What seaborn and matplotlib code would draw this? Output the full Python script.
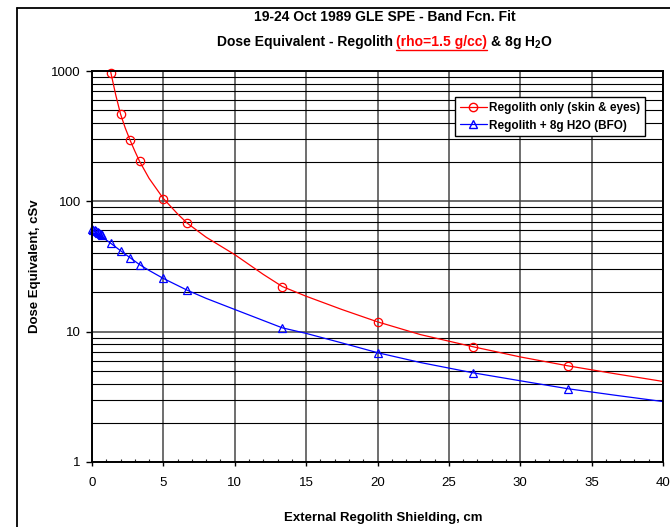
import matplotlib
matplotlib.use("Agg")
import matplotlib.pyplot as plt
from matplotlib.lines import Line2D
from matplotlib.ticker import FixedLocator, FixedFormatter, LogLocator, NullFormatter, MultipleLocator
import seaborn as sns

# fitted curves, values
reg_curve_x = [1.2, 1.33, 1.67, 2, 2.33, 2.67, 3, 3.33, 4, 5, 6, 6.67, 8, 10, 12, 13.33,
               15, 17.5, 20, 23, 26.67, 30, 33.33, 36.67, 40]
reg_curve_y = [1150, 960, 650, 467, 365, 294, 243, 203, 150, 105, 80, 68, 53, 39, 27.5, 22.2,
               18.7, 14.8, 11.9, 9.5, 7.67, 6.4, 5.47, 4.75, 4.15]
h2o_curve_x = [0, 0.33, 0.67, 1, 1.33, 2, 2.67, 3.33, 4, 5, 6.67, 8, 10, 13.33,
               15, 17.5, 20, 23, 26.67, 30, 33.33, 36.67, 40]
h2o_curve_y = [61, 57, 54, 50.5, 47.5, 41.8, 36.9, 32.7, 29.5, 25.6, 20.8, 18, 14.8, 10.7,
               9.7, 8.2, 6.9, 5.8, 4.84, 4.2, 3.65, 3.25, 2.91]

# marked points
reg_pts_x = [1.33, 2, 2.67, 3.33, 5, 6.67, 13.33, 20, 26.67, 33.33]
reg_pts_y = [960, 467, 294, 203, 105, 68, 22.2, 11.9, 7.67, 5.47]
h2o_pts_x = [0, 0.1, 0.2, 0.3, 0.4, 0.5, 0.6, 0.7, 1.33, 2, 2.67, 3.33, 5, 6.67,
             13.33, 20, 26.67, 33.33]
h2o_pts_y = [61, 60.5, 59.8, 59, 58.2, 57.2, 56.3, 55.2, 47.5, 41.8, 36.9, 32.7, 25.6, 20.8,
             10.7, 6.9, 4.84, 3.65]

x_ticks = [0, 5, 10, 15, 20, 25, 30, 35, 40]
y_ticks = [1, 10, 100, 1000]
y_tick_labels = ["1", "10", "100", "1000"]
legend_labels = ["Regolith only (skin & eyes)", "Regolith + 8g H2O (BFO)"]
title_1 = "19-24 Oct 1989 GLE SPE - Band Fcn. Fit"
title_2 = [("Dose Equivalent - Regolith ", "black", False),
           ("(rho=1.5 g/cc)", "red", True),
           (r" & 8g H$_\mathbf{2}$O", "black", False)]

sns.set_style("ticks")
plt.rcParams["font.family"] = ["Liberation Sans", "DejaVu Sans"]
plt.rcParams["mathtext.fontset"] = "custom"
plt.rcParams["mathtext.bf"] = "Liberation Sans:bold"
plt.rcParams["mathtext.rm"] = "Liberation Sans"
plt.rcParams["text.color"] = "black"
plt.rcParams["axes.labelcolor"] = "black"

W, H = 670, 527
fig = plt.figure(figsize=(6.7, 5.27), dpi=100)
ax = fig.add_axes([92 / W, 1 - 462 / H, (663 - 92) / W, (462 - 71) / H])

red, blue = "#FF0000", "#0000FF"

sns.lineplot(x=reg_curve_x, y=reg_curve_y, color=red, lw=0.9, sort=False, estimator=None, ax=ax)
sns.lineplot(x=h2o_curve_x, y=h2o_curve_y, color=blue, lw=0.9, sort=False, estimator=None, ax=ax)
sns.lineplot(x=reg_pts_x, y=reg_pts_y, marker="o", linestyle="", ms=6, mfc="none", mec=red,
             mew=0.9, color=red, sort=False, estimator=None, ax=ax, clip_on=False)
sns.lineplot(x=h2o_pts_x, y=h2o_pts_y, marker="^", linestyle="", ms=6, mfc="none", mec=blue,
             mew=0.9, color=blue, sort=False, estimator=None, ax=ax, clip_on=False)

ax.set_yscale("log")
ax.set_xlim(0, 40)
ax.set_ylim(1, 1000)
ax.xaxis.set_major_locator(FixedLocator(x_ticks))
ax.xaxis.set_minor_locator(MultipleLocator(1))
ax.yaxis.set_major_locator(FixedLocator(y_ticks))
ax.yaxis.set_major_formatter(FixedFormatter(y_tick_labels))
ax.yaxis.set_minor_locator(LogLocator(base=10, subs=range(2, 10)))
ax.yaxis.set_minor_formatter(NullFormatter())

ax.grid(True, axis="x", which="major", color="#555555", lw=1.2)
ax.grid(True, axis="y", which="major", color="#444444", lw=1.1)
ax.grid(True, axis="y", which="minor", color="black", lw=0.8)
ax.set_axisbelow(True)

for s in ax.spines.values():
    s.set_color("black")
    s.set_linewidth(1.4)

ax.tick_params(axis="x", which="major", direction="out", length=3, width=1, pad=8,
               labelsize=9.5, colors="black")
ax.tick_params(axis="x", which="minor", direction="in", length=2.5, width=0.8)
ax.tick_params(axis="y", which="major", direction="out", length=4, width=1, pad=4,
               labelsize=9.5, colors="black")
ax.tick_params(axis="y", which="minor", length=0)

ax.set_xlabel("External Regolith Shielding, cm", fontsize=9.5, fontweight="bold")
ax.set_ylabel("Dose Equivalent, cSv", fontsize=9.5, fontweight="bold")
ax.xaxis.set_label_coords(0.51, -0.128)
ax.yaxis.set_label_coords(-0.09, 0.5)

handles = [Line2D([], [], color=red, lw=0.9, marker="o", ms=6, mfc="none", mec=red),
           Line2D([], [], color=blue, lw=0.9, marker="^", ms=6, mfc="none", mec=blue)]
leg = ax.legend(handles, legend_labels, loc="upper right", bbox_to_anchor=(0.9685, 0.9335),
                prop={"weight": "bold", "size": 8.5}, frameon=True, fancybox=False,
                framealpha=1, edgecolor="black", handlelength=2.3, handletextpad=0.2,
                borderpad=0.4, labelspacing=0.5, borderaxespad=0)
leg.get_frame().set_linewidth(1)

# titles
cx = 385 / W
fig.text(cx, 1 - 17 / H, title_1, ha="center", va="center", fontsize=10, fontweight="bold")
renderer = fig.canvas.get_renderer()
parts = []
for s, c, u in title_2:
    t = fig.text(0, 1 - 46 / H, s, ha="left", va="baseline", fontsize=10, fontweight="bold", color=c)
    parts.append(t)
widths = [t.get_window_extent(renderer).width for t in parts]
x = cx * W - sum(widths) / 2
for t, w, (s, c, u) in zip(parts, widths, title_2):
    t.set_x(x / W)
    if u:
        bb = t.get_window_extent(renderer)
        fig.add_artist(Line2D([x / W, (x + w) / W], [(bb.y0 - 0.5) / H] * 2,
                              transform=fig.transFigure, color=c, lw=1))
    x += w

# outer border like the source sheet
fig.add_artist(Line2D([17 / W, 1], [1 - 8 / H] * 2, transform=fig.transFigure, color="black", lw=1.3))
fig.add_artist(Line2D([17 / W] * 2, [0, 1 - 8 / H], transform=fig.transFigure, color="black", lw=1.3))

fig.savefig("out.png", dpi=100)
